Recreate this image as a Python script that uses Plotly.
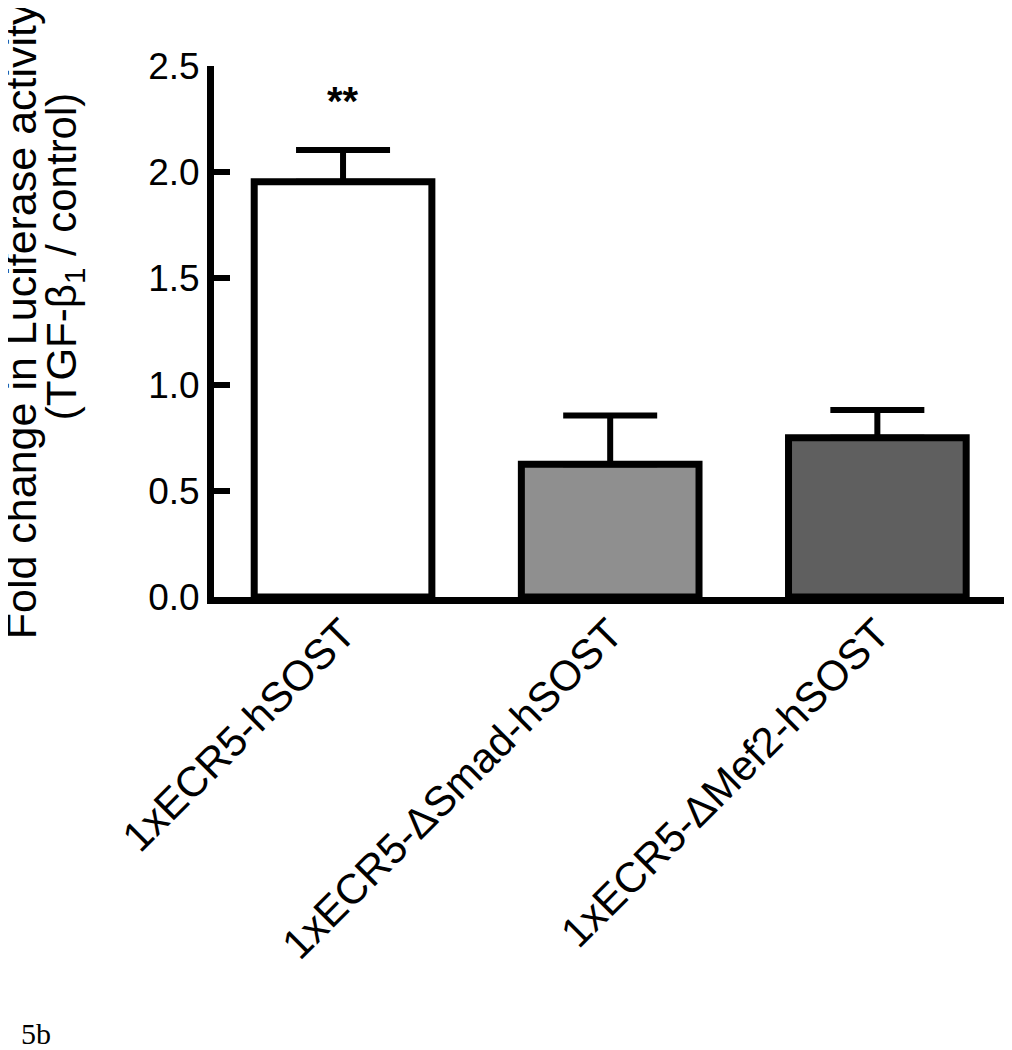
import plotly.graph_objects as go

categories = ["1xECR5-hSOST", "1xECR5-ΔSmad-hSOST", "1xECR5-ΔMef2-hSOST"]
fold_change = [1.955, 0.625, 0.75]
sem = [0.15, 0.23, 0.13]
bar_colors = ["#ffffff", "#8f8f8f", "#5f5f5f"]
y_ticks = [0.0, 0.5, 1.0, 1.5, 2.0, 2.5]

FONT = "Arial, Liberation Sans, sans-serif"

fig = go.Figure(
    go.Bar(
        x=categories,
        y=fold_change,
        width=0.665,
        marker=dict(color=bar_colors, line=dict(color="black", width=7)),
        error_y=dict(
            type="data",
            symmetric=False,
            array=sem,
            arrayminus=[0, 0, 0],
            color="black",
            thickness=6,
            width=47,
        ),
    )
)

# significance marker over the first bar
fig.add_annotation(
    x=categories[0], y=fold_change[0] + sem[0], yshift=49,
    text="<b>**</b>", showarrow=False, font=dict(family=FONT, size=40, color="black"),
)

# y-axis title, two rotated lines
fig.add_annotation(
    xref="paper", yref="paper", x=-0.274, y=0.52,
    text="Fold change in Luciferase activity",
    textangle=-90, showarrow=False,
    font=dict(family=FONT, size=43, color="black"),
)
fig.add_annotation(
    xref="paper", yref="paper", x=-0.2235, y=0.642,
    text="(TGF-β<sub>1</sub> / control)",
    textangle=-90, showarrow=False,
    font=dict(family=FONT, size=42, color="black"),
)

# panel label
fig.add_annotation(
    xref="paper", yref="paper", x=-0.2444, y=-0.857, xanchor="left",
    text="5b", showarrow=False,
    font=dict(family="Liberation Serif, Times New Roman, serif", size=30, color="black"),
)

fig.update_layout(
    width=1004,
    height=1042,
    plot_bgcolor="white",
    paper_bgcolor="white",
    showlegend=False,
    margin=dict(l=206, r=0, t=58, b=453),
    xaxis=dict(
        range=[-0.483, 2.504],
        showline=True, linecolor="black", linewidth=7,
        ticks="", tickangle=-45, ticklabelstandoff=-12,
        tickfont=dict(family=FONT, size=42, color="black"),
        showgrid=False, zeroline=False,
    ),
    yaxis=dict(
        range=[0, 2.5],
        tickvals=y_ticks,
        ticktext=[f"{v:.1f}" for v in y_ticks],
        showline=True, linecolor="black", linewidth=7,
        ticks="inside", ticklen=16, tickwidth=6, tickcolor="black",
        tickfont=dict(family=FONT, size=37, color="black"),
        showgrid=False, zeroline=False,
    ),
)

fig.write_html("out.html")
